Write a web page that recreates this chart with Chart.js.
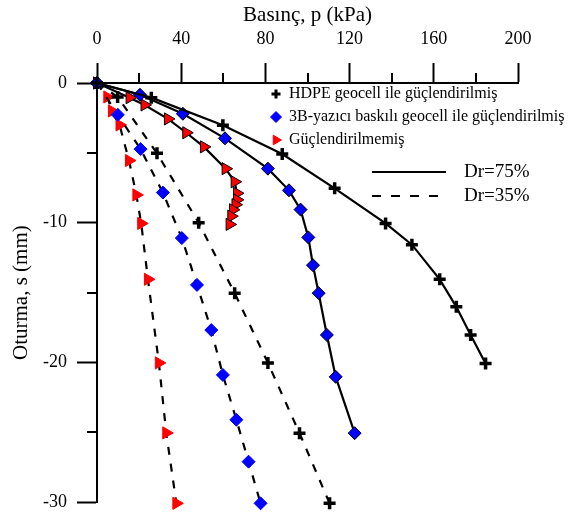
<!DOCTYPE html>
<html>
<head>
<meta charset="utf-8">
<script src="https://cdn.jsdelivr.net/npm/chart.js@4"></script>
<style>
html,body{margin:0;padding:0;background:#fff;}
</style>
</head>
<body>
<canvas id="chart" width="579" height="523"></canvas>
<script>
// load-settlement data (p in kPa, s in mm)
const hdpe75P = [0, 25.8, 59.8, 88.0, 112.9, 137.1, 149.6, 162.8, 170.7, 177.5, 184.6];
const hdpe75S = [0, -1.05, -3.02, -5.08, -7.54, -10.05, -11.57, -14.05, -16.02, -18.03, -20.07];
const print75P = [0, 20.4, 40.8, 60.8, 81.2, 91.2, 96.7, 100.4, 102.6, 105.3, 109.2, 113.4, 122.4];
const print75S = [0, -0.84, -2.2, -3.96, -6.13, -7.68, -9.06, -11.05, -13.04, -15.04, -18.03, -21.03, -25.06];
const none75P = [0, 15.5, 22.6, 33.7, 42.4, 50.8, 61.1, 65.4, 66.5, 66.5, 65.8, 64.6, 63.8, 63.0];
const none75S = [0, -1.05, -1.57, -2.57, -3.56, -4.57, -6.13, -7.07, -7.89, -8.36, -8.71, -9.07, -9.53, -10.12];
const hdpe35P = [0, 9.8, 28.5, 48.3, 65.4, 81.2, 96.2, 110.5];
const hdpe35S = [0, -1.0, -5.03, -10.0, -15.04, -20.03, -25.06, -30.08];
const print35P = [0, 9.9, 20.7, 31.3, 40.3, 47.5, 54.3, 59.8, 66.2, 72.0, 77.7];
const print35S = [0, -2.28, -4.73, -7.84, -11.1, -14.45, -17.68, -20.89, -24.1, -27.1, -30.08];
const none35P = [0, 4.9, 7.1, 10.7, 15.2, 18.7, 21.0, 24.2, 29.4, 32.9, 37.7];
const none35S = [0, -1.0, -2.0, -3.0, -5.55, -8.01, -10.05, -14.05, -20.03, -25.04, -30.08];

const seriesNames = ["HDPE geocell ile güçlendirilmiş", "3B-yazıcı baskılı geocell ile güçlendirilmiş", "Güçlendirilmemiş"];
const densityNames = ["Dr=75%", "Dr=35%"];
const xMajor = [0, 40, 80, 120, 160, 200];
const xMinor = [20, 60, 100, 140, 180];
const yMajor = [0, -10, -20, -30];
const yMinor = [-5, -15, -25];

const FONT = "'Liberation Serif', 'Times New Roman', serif";

function pts(xs, ys){ return xs.map((x,i)=>({x:x, y:ys[i]})); }

const markers = [
    {pointStyle:'cross', radius:6, rotation:0, fill:'#000', border:'#000', bw:3.5},
    {pointStyle:'rectRot', radius:6.5, rotation:0, fill:'#0000ff', border:'#000', bw:1},
    {pointStyle:'triangle', radius:7, rotation:90, fill:'#ff0000', border:'#000', bw:1}
];

function makeSet(xs, ys, m, dashed){
    return {
        data: pts(xs, ys),
        showLine: true,
        borderColor: '#000',
        borderWidth: 2.2,
        borderDash: dashed ? [8,9] : [],
        pointStyle: m.pointStyle,
        pointRotation: m.rotation,
        pointRadius: m.radius,
        pointHoverRadius: m.radius,
        pointBackgroundColor: m.fill,
        pointBorderColor: dashed && m.pointStyle !== 'cross' ? m.fill : m.border,
        pointBorderWidth: m.bw,
        clip: false,
        tension: 0
    };
}

const minorTicks = {
    id: 'minorTicks',
    afterDraw(chart){
        const ctx = chart.ctx, xs = chart.scales.x, ys = chart.scales.y;
        ctx.save();
        ctx.strokeStyle = '#000';
        ctx.lineWidth = 2;
        xMinor.forEach(v=>{
            const px = Math.round(xs.getPixelForValue(v));
            ctx.beginPath(); ctx.moveTo(px, ys.top); ctx.lineTo(px, ys.top - 10); ctx.stroke();
        });
        yMinor.forEach(v=>{
            const py = Math.round(ys.getPixelForValue(v));
            ctx.beginPath(); ctx.moveTo(xs.left, py); ctx.lineTo(xs.left - 10, py); ctx.stroke();
        });
        ctx.restore();
    }
};

const legendBox = {
    id: 'legendBox',
    afterDraw(chart){
        const ctx = chart.ctx, a = chart.chartArea;
        ctx.save();
        ctx.font = "16px " + FONT;
        ctx.textBaseline = 'middle';
        ctx.fillStyle = '#000';
        seriesNames.forEach((name,i)=>{
            const m = markers[i];
            const y = a.top + 11 + i*23;
            const x = a.left + 179;
            ctx.fillStyle = m.fill;
            ctx.strokeStyle = m.pointStyle === 'cross' ? '#000' : m.fill;
            ctx.lineWidth = m.pointStyle === 'cross' ? 3 : 1;
            Chart.helpers.drawPoint(ctx, {pointStyle:m.pointStyle, radius:m.pointStyle==='cross'?4.5:5.5, rotation:m.rotation, borderWidth:ctx.lineWidth}, x, y);
            ctx.fillStyle = '#000';
            ctx.fillText(name, x + 13, y);
        });
        ctx.font = "19px " + FONT;
        densityNames.forEach((name,i)=>{
            const y = a.top + 89 + i*24;
            ctx.strokeStyle = '#000';
            ctx.lineWidth = 2;
            ctx.setLineDash(i === 0 ? [] : [9,10]);
            ctx.beginPath(); ctx.moveTo(a.left + 275, y); ctx.lineTo(a.left + 349, y); ctx.stroke();
            ctx.setLineDash([]);
            ctx.fillText(name, a.left + 367, y);
        });
        ctx.restore();
    }
};

new Chart(document.getElementById('chart'), {
    type: 'scatter',
    data: {
        datasets: [
            makeSet(hdpe75P, hdpe75S, markers[0], false),
            makeSet(print75P, print75S, markers[1], false),
            makeSet(none75P, none75S, markers[2], false),
            makeSet(hdpe35P, hdpe35S, markers[0], true),
            makeSet(print35P, print35S, markers[1], true),
            makeSet(none35P, none35S, markers[2], true)
        ]
    },
    options: {
        responsive: false,
        animation: false,
        layout: {padding: {left: 9, right: 61, top: 0, bottom: 13}},
        plugins: {legend: {display: false}, tooltip: {enabled: false}},
        scales: {
            x: {
                type: 'linear', position: 'top', min: 0, max: 200,
                afterBuildTicks: s => { s.ticks = xMajor.map(v=>({value:v})); },
                afterFit: s => { s.height = 83; },
                border: {display: true, color: '#000', width: 2},
                grid: {drawOnChartArea: false, drawTicks: true, tickLength: 20, tickColor: '#000', tickWidth: 2},
                ticks: {color: '#000', font: {family: FONT, size: 18}, padding: 13, maxRotation: 0},
                title: {display: true, text: 'Basınç, p (kPa)', color: '#000', font: {family: FONT, size: 21}, padding: {top: 3, bottom: 0}}
            },
            y: {
                type: 'linear', min: -30, max: 0,
                afterBuildTicks: s => { s.ticks = yMajor.map(v=>({value:v})); },
                afterFit: s => { s.width = 88; },
                border: {display: true, color: '#000', width: 2},
                grid: {drawOnChartArea: false, drawTicks: true, tickLength: 20, tickColor: '#000', tickWidth: 2},
                ticks: {color: '#000', font: {family: FONT, size: 18}, padding: 10},
                title: {display: true, text: 'Oturma, s (mm)', color: '#000', font: {family: FONT, size: 21}, padding: {top: 0, bottom: 0}}
            }
        }
    },
    plugins: [minorTicks, legendBox]
});
</script>
</body>
</html>
